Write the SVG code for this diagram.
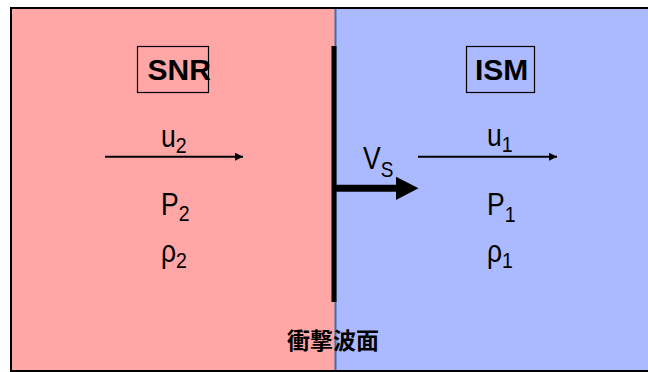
<svg xmlns="http://www.w3.org/2000/svg" width="648" height="372" viewBox="0 0 648 372">
  <style>
    .t { font-family: "Liberation Sans", Arial, sans-serif; font-size: 26.5px; fill: #000; }
    .sub { font-size: 19.5px; }
    .b { font-family: "Liberation Sans", Arial, sans-serif; font-size: 30px; font-weight: bold; fill: #000; }
    .box { fill: none; stroke: #000; stroke-width: 1.2; }
    .thin { stroke: #000; stroke-width: 2; fill: none; }
    .cjk { font-family: "Liberation Sans", "Noto Sans CJK JP", sans-serif; font-size: 23px; font-weight: bold; fill: #000; }
  </style>
  <defs>
    <marker id="ah" markerWidth="8" markerHeight="8" refX="8" refY="4" orient="auto" markerUnits="userSpaceOnUse">
      <path d="M0,0 L8,4 L0,8 Z" fill="#000"/>
    </marker>
  </defs>
  <rect x="0" y="0" width="648" height="372" fill="#fff"/>
  <g id="snr-region">
    <rect x="12" y="9" width="323" height="362" fill="#FFA7A7"/>
    <rect class="box" x="137.5" y="46.5" width="71" height="46"/>
    <text class="b" x="147.5" y="80">SNR</text>
    <text class="t" transform="translate(161,147) scale(1,1.16)">u<tspan class="sub" dy="5.5">2</tspan></text>
    <text class="t" transform="translate(161,214.5) scale(1,1.16)">P<tspan class="sub" dy="6">2</tspan></text>
    <text class="t" transform="translate(161,261.5) scale(1,1.16)">ρ<tspan class="sub" dy="6">2</tspan></text>
  </g>
  <g id="ism-region">
    <rect x="335" y="9" width="313" height="362" fill="#ABBAFF"/>
    <line x1="335.5" y1="9" x2="335.5" y2="371" stroke="#3F6FA8" stroke-width="2"/>
    <rect class="box" x="466.5" y="46.5" width="68" height="46"/>
    <text class="b" x="475" y="80">ISM</text>
    <text class="t" transform="translate(487,145.5) scale(1,1.16)">u<tspan class="sub" dy="6">1</tspan></text>
    <text class="t" transform="translate(487,215) scale(1,1.16)">P<tspan class="sub" dy="6">1</tspan></text>
    <text class="t" transform="translate(487,261.5) scale(1,1.16)">ρ<tspan class="sub" dy="6">1</tspan></text>
  </g>
  <g id="shock-front">
    <rect x="331.5" y="46" width="5" height="256" fill="#000"/>
    <text class="cjk" x="287" y="349">衝撃波面</text>
  </g>
  <g id="frame">
    <path d="M648,8 H11 V371 H648" fill="none" stroke="#000" stroke-width="2"/>
  </g>
  <g id="connectors">
    <line class="thin" x1="105" y1="156.7" x2="243" y2="156.7" marker-end="url(#ah)"/>
    <line class="thin" x1="418" y1="156.7" x2="557" y2="156.7" marker-end="url(#ah)"/>
    <line x1="336" y1="188.3" x2="398" y2="188.3" stroke="#000" stroke-width="7"/>
    <path d="M396,176.7 L418.5,188.3 L396,199.9 Z" fill="#000"/>
    <text class="t" transform="translate(363,168.5) scale(1,1.16)" font-size="28">V<tspan font-size="19" dy="7">S</tspan></text>
  </g>
</svg>
